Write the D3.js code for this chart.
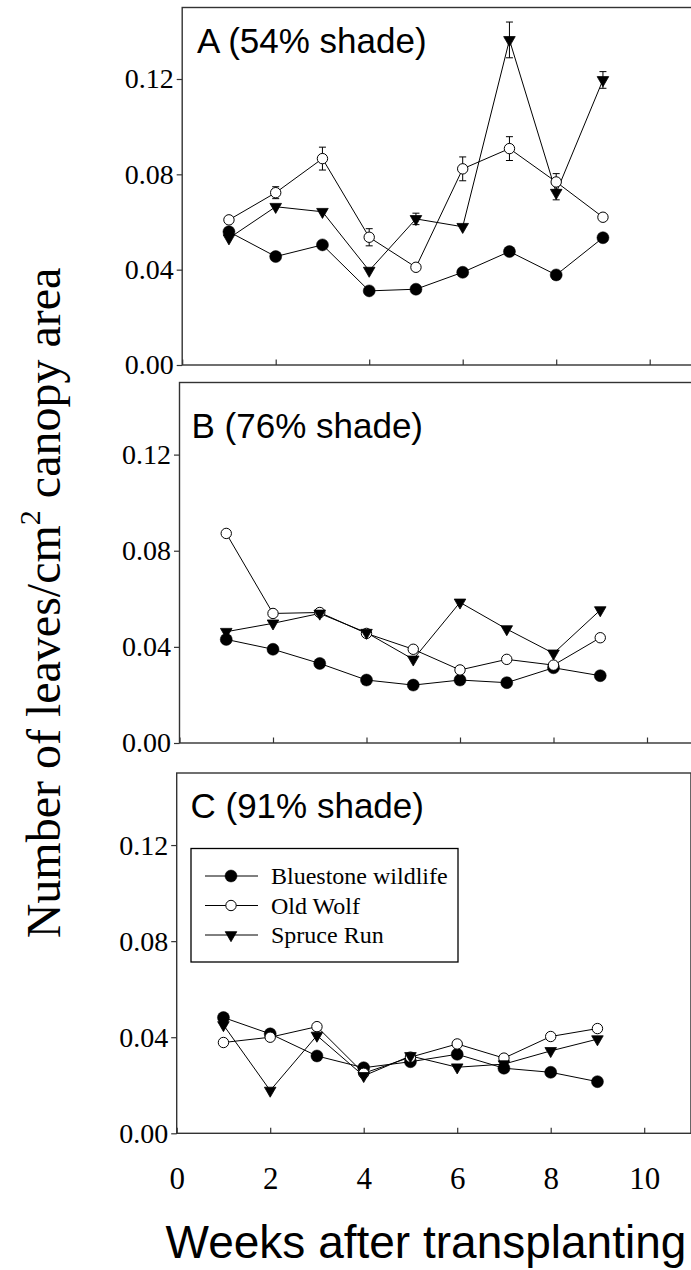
<!DOCTYPE html>
<html>
<head>
<meta charset="utf-8">
<script src="https://cdn.jsdelivr.net/npm/d3@7"></script>
<style>
  body { margin: 0; background: #fff; }
  svg { display: block; }
</style>
</head>
<body>
<div id="chart"></div>
<script>
// data
const weeks = [1, 2, 3, 4, 5, 6, 7, 8, 9];
const sites = ["Bluestone wildlife", "Old Wolf", "Spruce Run"];
const panelLabels = ["A (54% shade)", "B (76% shade)", "C (91% shade)"];
const yTicks = [0, 0.04, 0.08, 0.12];
const xTicks = [0, 2, 4, 6, 8, 10];

// A (54% shade)
const a_bluestone = [0.0559, 0.0455, 0.0504, 0.0311, 0.0318, 0.0389, 0.0476, 0.0378, 0.0534];
const a_oldwolf   = [0.0609, 0.0723, 0.0866, 0.0536, 0.0410, 0.0823, 0.0908, 0.0768, 0.0620];
const a_spruce    = [0.0532, 0.0664, 0.0643, 0.0396, 0.0613, 0.0580, 0.1364, 0.0723, 0.1196];
const a_oldwolf_err = [0, 0.0025, 0.0048, 0.0036, 0, 0.0050, 0.0050, 0.0035, 0];
const a_spruce_err  = [0, 0, 0, 0, 0.0024, 0, 0.0075, 0.0030, 0.0035];

// B (76% shade)
const b_bluestone = [0.0431, 0.0390, 0.0331, 0.0262, 0.0241, 0.0262, 0.0251, 0.0313, 0.0280];
const b_oldwolf   = [0.0872, 0.0539, 0.0543, 0.0456, 0.0390, 0.0304, 0.0348, 0.0324, 0.0438];
const b_spruce    = [0.0463, 0.0498, 0.0539, 0.0459, 0.0348, 0.0585, 0.0474, 0.0373, 0.0553];

// C (91% shade)
const c_bluestone = [0.0482, 0.0414, 0.0322, 0.0273, 0.0298, 0.0329, 0.0271, 0.0254, 0.0215];
const c_oldwolf   = [0.0378, 0.0400, 0.0444, 0.0250, 0.0317, 0.0372, 0.0313, 0.0403, 0.0436];
const c_spruce    = [0.0451, 0.0178, 0.0407, 0.0239, 0.0322, 0.0275, 0.0288, 0.0343, 0.0392];

const width = 691;
const height = 1270;
const pxPerWeek = 46.75;
const serif = "'Liberation Serif', 'Times New Roman', serif";
const sans = "'Liberation Sans', Arial, sans-serif";

const panels = [
  {top: 7.5, bottom: 365, left: 182.2, lx: 197, ly: 53,
   series: [a_bluestone, a_oldwolf, a_spruce], errs: [null, a_oldwolf_err, a_spruce_err]},
  {top: 382.5, bottom: 743, left: 179.5, lx: 191.5, ly: 438,
   series: [b_bluestone, b_oldwolf, b_spruce], errs: [null, null, null]},
  {top: 773, bottom: 1133.3, left: 176.7, lx: 190.5, ly: 818,
   series: [c_bluestone, c_oldwolf, c_spruce], errs: [null, null, null]}
];

var svg = d3.select("#chart").append("svg")
  .attr("width", width)
  .attr("height", height);

// marker for each site
function marker(sel, i) {
  if (i === 2) {
    sel.attr("d", d3.symbol().type(d3.symbolTriangle).size(58))
      .attr("fill", "black")
      .attr("stroke", "black")
      .attr("stroke-width", 0.8);
  } else if (i === 1) {
    sel.attr("d", d3.symbol().type(d3.symbolCircle).size(Math.PI * 5.2 * 5.2))
      .attr("fill", "white")
      .attr("stroke", "black")
      .attr("stroke-width", 1);
  } else {
    sel.attr("d", d3.symbol().type(d3.symbolCircle).size(Math.PI * 6 * 6))
      .attr("fill", "black")
      .attr("stroke", "black")
      .attr("stroke-width", 0.5);
  }
}
function rot(i) { return i === 2 ? " rotate(180)" : ""; }

panels.forEach(function(p, k) {
  var x = d3.scaleLinear().domain([0, 11]).range([p.left, p.left + 11 * pxPerWeek]);
  var y = d3.scaleLinear().domain([0, 0.15]).range([p.bottom, p.top]);

  var g = svg.append("g").attr("class", "panel");

  // frame
  g.append("rect")
    .attr("x", x(0)).attr("y", y(0.15))
    .attr("width", x(11) - x(0)).attr("height", y(0) - y(0.15))
    .attr("fill", "none").attr("stroke", "#333").attr("stroke-width", 1.4);

  var yAxis = d3.axisLeft(y).tickValues(yTicks).tickFormat(d3.format(".2f"))
    .tickSizeInner(5.5).tickSizeOuter(0).tickPadding(3);
  var yg = g.append("g").attr("transform", "translate(" + x(0) + ",0)").call(yAxis);
  yg.select(".domain").remove();
  yg.selectAll(".tick line").attr("stroke", "#333").attr("stroke-width", 1.2);
  yg.selectAll(".tick text").attr("font-family", serif).attr("font-size", 28).attr("fill", "black");

  var xAxis = d3.axisBottom(x).tickValues(xTicks).tickSizeInner(-5.5).tickSizeOuter(0)
    .tickPadding(34);
  if (k < 2) xAxis.tickFormat("");
  var xg = g.append("g").attr("transform", "translate(0," + y(0) + ")").call(xAxis);
  xg.select(".domain").remove();
  xg.selectAll(".tick line").attr("stroke", "#333").attr("stroke-width", 1.2);
  xg.selectAll(".tick text").attr("font-family", serif).attr("font-size", 31).attr("fill", "black");

  var line = d3.line().x(function(d, i) { return x(weeks[i]); }).y(function(d) { return y(d); });

  p.series.forEach(function(vals, i) {
    g.append("path")
      .attr("d", line(vals))
      .attr("fill", "none").attr("stroke", "black").attr("stroke-width", 1);
  });

  // error bars
  p.series.forEach(function(vals, i) {
    var e = p.errs[i];
    if (!e) return;
    weeks.forEach(function(w, j) {
      if (!e[j]) return;
      var cx = x(w), y1 = y(vals[j] + e[j]), y2 = y(vals[j] - e[j]);
      g.append("path")
        .attr("d", "M" + cx + "," + y1 + "V" + y2 +
                   "M" + (cx - 3.5) + "," + y1 + "H" + (cx + 3.5) +
                   "M" + (cx - 3.5) + "," + y2 + "H" + (cx + 3.5))
        .attr("fill", "none").attr("stroke", "black").attr("stroke-width", 1);
    });
  });

  p.series.forEach(function(vals, i) {
    g.selectAll(null).data(vals).enter().append("path")
      .attr("transform", function(d, j) { return "translate(" + x(weeks[j]) + "," + y(d) + ")" + rot(i); })
      .call(marker, i);
  });

  g.append("text")
    .attr("x", p.lx).attr("y", p.ly)
    .attr("font-family", sans).attr("font-size", 35)
    .text(panelLabels[k]);
});

// legend in panel C
var lg = svg.append("g").attr("class", "legend");
lg.append("rect").attr("x", 191).attr("y", 848.5).attr("width", 267).attr("height", 113.5)
  .attr("fill", "white").attr("stroke", "black").attr("stroke-width", 1.3);
sites.forEach(function(s, i) {
  var cy = 876 + i * 29.5;
  lg.append("line").attr("x1", 205).attr("x2", 258).attr("y1", cy).attr("y2", cy)
    .attr("stroke", "black").attr("stroke-width", 1);
  lg.append("path").attr("transform", "translate(231," + cy + ")" + rot(i)).call(marker, i);
  lg.append("text").attr("x", 271).attr("y", cy + 8)
    .attr("font-family", serif).attr("font-size", 24).text(s);
});

// axis titles
svg.append("text")
  .attr("transform", "translate(60,603) rotate(-90)")
  .attr("text-anchor", "middle")
  .attr("font-family", serif).attr("font-size", 48)
  .call(function(t) {
    t.append("tspan").text("Number of leaves/cm");
    t.append("tspan").attr("font-size", 30).attr("dy", -20).text("2");
    t.append("tspan").attr("dy", 20).text(" canopy area");
  });

svg.append("text")
  .attr("x", 426).attr("y", 1258)
  .attr("text-anchor", "middle")
  .attr("font-family", sans).attr("font-size", 46)
  .text("Weeks after transplanting");
</script>
</body>
</html>
